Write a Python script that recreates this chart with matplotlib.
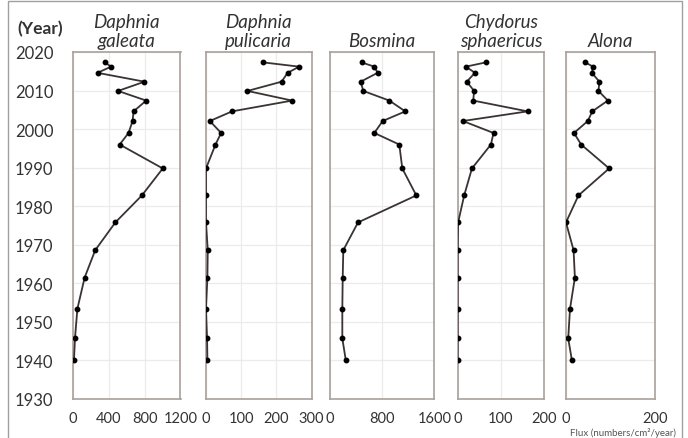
import matplotlib
matplotlib.use('Agg')
import matplotlib.pyplot as plt
from matplotlib.patches import Rectangle

plt.rcParams['font.family'] = ['Lato', 'Open Sans', 'DejaVu Sans']

# sediment ages shared by all taxa
years = [2017.3, 2016.2, 2014.6, 2012.3, 2009.9, 2007.4, 2004.6, 2002.1, 1999.0,
         1996.0, 1989.8, 1982.8, 1975.8, 1968.6, 1961.5, 1953.4, 1945.7, 1940.2]

galeata = [355, 425, 274, 798, 503, 817, 676, 665, 620, 521, 1002, 769, 473, 248, 130, 49, 22, 11]
pulicaria = [163, 265, 232, 215, 118, 245, 74, 11, 43, 27, 0, 0, 0, 5, 4, 0, 3, 4]
bosmina = [486, 680, 731, 470, 511, 910, 1155, 808, 680, 1063, 1109, 1324, 430, 204, 195, 189, 189, 241]
chydorus = [65, 19, 40, 21, 38, 36, 162, 12, 83, 77, 33, 15, 1, 0, 0, 0, 0, 0]
alona = [43, 61, 58, 75, 73, 94, 59, 49, 18, 34, 97, 28, 0, 17, 20, 9, 5, 13]

titles = ['Daphnia\ngaleata', 'Daphnia\npulicaria', 'Bosmina', 'Chydorus\nsphaericus', 'Alona']
series = [galeata, pulicaria, bosmina, chydorus, alona]
xmax = [1200, 300, 1600, 200, 200]
xticks = [[0, 400, 800, 1200], [0, 100, 200, 300], [0, 800, 1600], [0, 100, 200], [0, 200]]
year_ticks = list(range(1930, 2021, 10))

W, H = 688, 439
fig = plt.figure(figsize=(W / 100, H / 100), dpi=100)

# panel left edges / widths in pixels
lefts = [73, 206, 330, 457.7, 566]
widths = [107.5, 105.5, 104.3, 86.3, 89]
top, bottom = 53, 400

txt = '#333333'
for i in range(5):
    ax = fig.add_axes([lefts[i] / W, 1 - bottom / H, widths[i] / W, (bottom - top) / H])
    ax.plot(series[i], years, '-', color='#3b3232', lw=1.3, zorder=3)
    ax.plot(series[i], years, 'o', color='black', ms=3.2, zorder=4)
    ax.set_xlim(0, xmax[i])
    ax.set_ylim(1930, 2020)
    ax.set_xticks(xticks[i])
    ax.set_yticks(year_ticks)
    ax.grid(True, color='#ebebeb', lw=0.9)
    ax.set_axisbelow(True)
    for s in ax.spines.values():
        s.set_color('#aaa09c')
        s.set_linewidth(1.2)
    ax.tick_params(length=0, labelsize=10.5, colors=txt, pad=9)
    ax.tick_params(axis='y', labelsize=12, pad=14)
    if i > 0:
        ax.set_yticklabels([])
    ax.text(0.5, 1.008, titles[i], transform=ax.transAxes, ha='center', va='bottom',
            fontsize=13.5, style='italic', color='#333333', linespacing=1.15)

fig.text(40 / W, 1 - 29 / H, '(Year)', ha='center', va='center', fontsize=12.5,
         color='#333333', fontweight='bold')
fig.text(676 / W, 1 - 438.5 / H, 'Flux (numbers/cm²/year)', ha='right', va='bottom',
         fontsize=7, color='#555555')

# outer frame
fig.patches.append(Rectangle((8 / W, -0.02), (682 - 8) / W, 1 - 1.5 / H + 0.02,
                             transform=fig.transFigure, fill=False,
                             edgecolor='#a0a0a0', lw=1))

fig.savefig('out.png', dpi=100)
